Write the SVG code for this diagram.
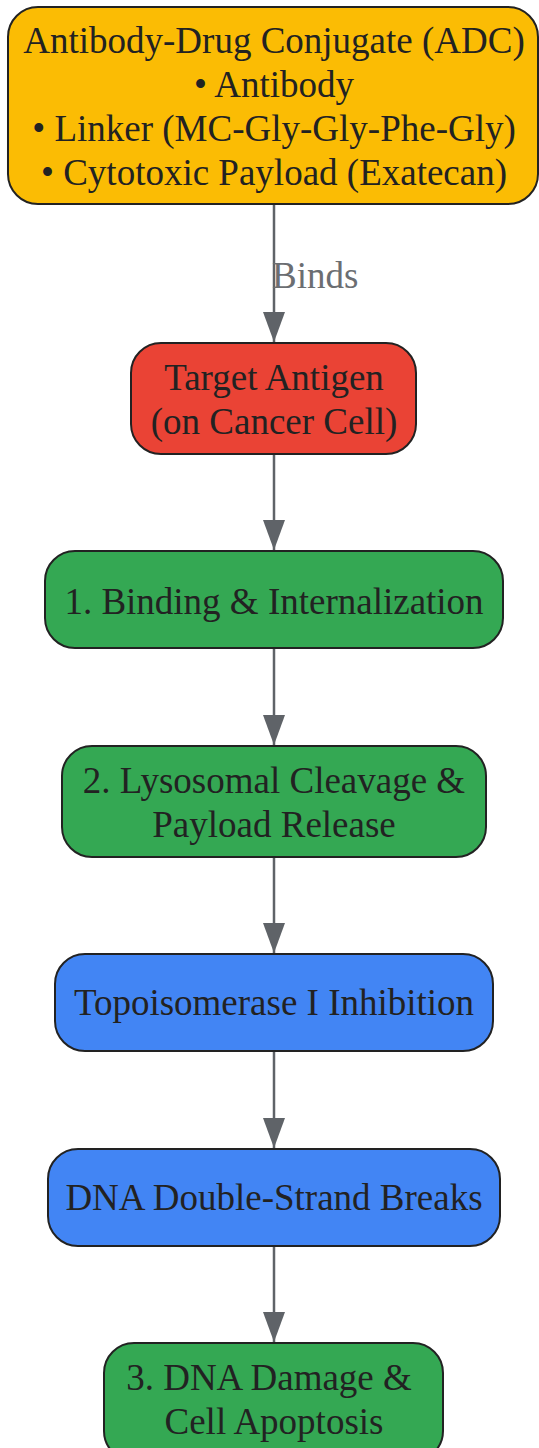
<svg xmlns="http://www.w3.org/2000/svg" width="539" height="1448" viewBox="0 0 539 1448">
<defs>
<style>
.n rect{stroke:#222;stroke-width:2}
.t{font-family:"Liberation Serif","Times New Roman",serif;font-size:37px;fill:#222;text-anchor:middle}
.e{stroke:#5f6368;stroke-width:2.5;fill:none}
.lbl{font-family:"Liberation Serif","Times New Roman",serif;font-size:37px;fill:#6b6e72}
</style>
<marker id="ah" markerWidth="30" markerHeight="22" refX="30" refY="11" orient="auto" markerUnits="userSpaceOnUse" viewBox="0 0 30 22">
<path d="M0,0 L30,11 L0,22 Z" fill="#5f6368"/>
</marker>
</defs>
<rect width="539" height="1448" fill="#fff"/>
<g id="edges">
<line class="e" x1="274" y1="204" x2="274" y2="342" marker-end="url(#ah)"/>
<text class="lbl" x="272" y="288">Binds</text>
<line class="e" x1="274" y1="454" x2="274" y2="550" marker-end="url(#ah)"/>
<line class="e" x1="274" y1="648" x2="274" y2="745" marker-end="url(#ah)"/>
<line class="e" x1="274" y1="857" x2="274" y2="953" marker-end="url(#ah)"/>
<line class="e" x1="274" y1="1051" x2="274" y2="1148" marker-end="url(#ah)"/>
<line class="e" x1="274" y1="1246" x2="274" y2="1342" marker-end="url(#ah)"/>
</g>
<g id="adc" class="n">
<rect x="8" y="7" width="530" height="197" rx="30" fill="#FBBC04"/>
<text class="t" x="274" y="53">Antibody-Drug Conjugate (ADC)</text>
<text class="t" x="274" y="97">• Antibody</text>
<text class="t" x="274" y="141">• Linker (MC-Gly-Gly-Phe-Gly)</text>
<text class="t" x="274" y="185">• Cytotoxic Payload (Exatecan)</text>
</g>
<g id="antigen" class="n">
<rect x="131" y="343" width="285" height="111" rx="30" fill="#EA4335"/>
<text class="t" x="274" y="390">Target Antigen</text>
<text class="t" x="274" y="434">(on Cancer Cell)</text>
</g>
<g id="step1" class="n">
<rect x="45" y="551" width="458" height="97" rx="30" fill="#34A853"/>
<text class="t" x="274" y="614">1. Binding &amp; Internalization</text>
</g>
<g id="step2" class="n">
<rect x="62" y="746" width="424" height="111" rx="30" fill="#34A853"/>
<text class="t" x="274" y="793">2. Lysosomal Cleavage &amp;</text>
<text class="t" x="274" y="837">Payload Release</text>
</g>
<g id="topo" class="n">
<rect x="55" y="954" width="438" height="97" rx="30" fill="#4285F4"/>
<text class="t" x="274" y="1015">Topoisomerase I Inhibition</text>
</g>
<g id="dsb" class="n">
<rect x="48" y="1149" width="452" height="97" rx="30" fill="#4285F4"/>
<text class="t" x="274" y="1210">DNA Double-Strand Breaks</text>
</g>
<g id="step3" class="n">
<rect x="104" y="1343" width="339" height="118" rx="30" fill="#34A853"/>
<text class="t" x="269" y="1390">3. DNA Damage &amp;</text>
<text class="t" x="274" y="1434">Cell Apoptosis</text>
</g>
</svg>
